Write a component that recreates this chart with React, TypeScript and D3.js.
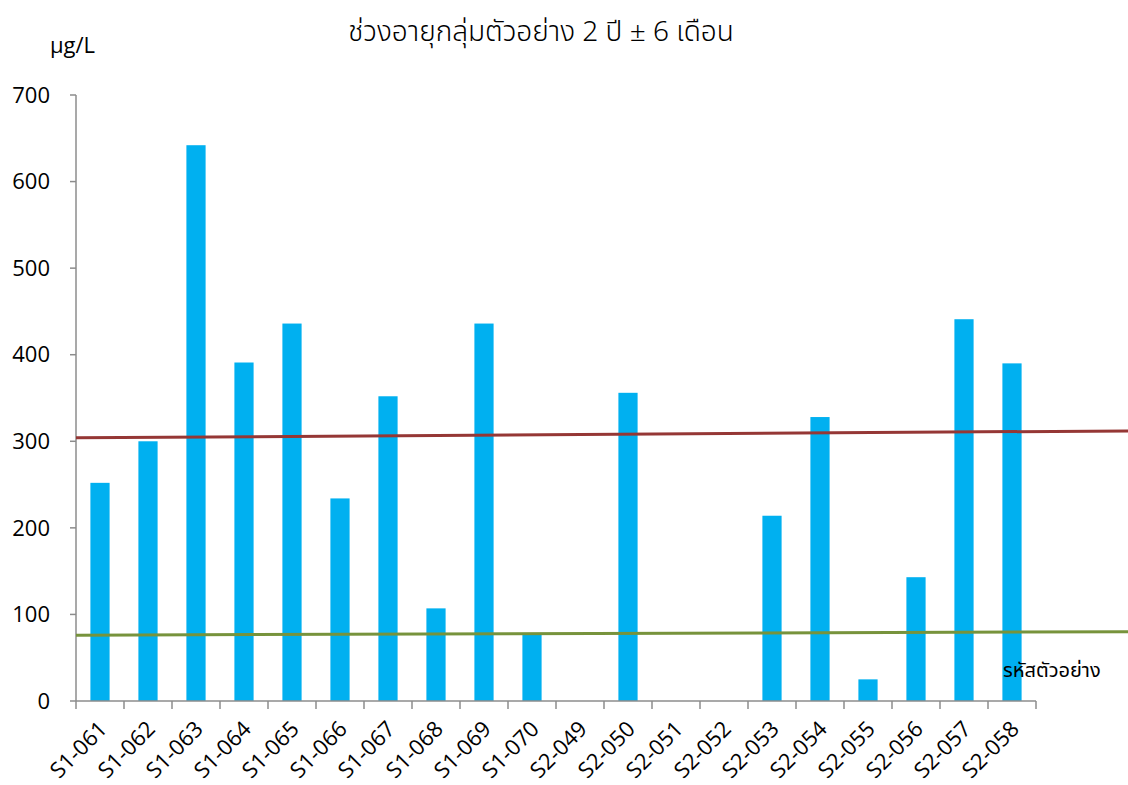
import React from 'react'
import * as d3 from 'd3'

const samples = [
  'S1-061', 'S1-062', 'S1-063', 'S1-064', 'S1-065', 'S1-066', 'S1-067', 'S1-068', 'S1-069', 'S1-070',
  'S2-049', 'S2-050', 'S2-051', 'S2-052', 'S2-053', 'S2-054', 'S2-055', 'S2-056', 'S2-057', 'S2-058',
]
const levels = [252, 300, 642, 391, 436, 234, 352, 107, 436, 77, 0, 356, 0, 0, 214, 328, 25, 143, 441, 390]
const yTicks = [0, 100, 200, 300, 400, 500, 600, 700]

// reference lines: value at the left edge and at the right edge of the picture
const upperLine = [304, 312]
const lowerLine = [76, 80]

const title = 'ช่วงอายุกลุ่มตัวอย่าง 2 ปี ± 6 เดือน'
const yUnit = 'μg/L'
const xTitle = 'รหัสตัวอย่าง'

const width = 1128
const height = 785
const margin = { top: 95, right: 92, bottom: 84, left: 76 }
const labelFont = '"Open Sans", "Liberation Sans", sans-serif'
const thaiFont = '"Noto Sans Thai", "Noto Sans", "DejaVu Sans", sans-serif'

export default function App() {
  const boundedWidth = width - margin.left - margin.right
  const boundedHeight = height - margin.top - margin.bottom

  const xScale = d3.scaleBand<string>()
    .domain(samples)
    .range([0, boundedWidth])
    .paddingInner(0.6)
    .paddingOuter(0.3)

  const yScale = d3.scaleLinear()
    .domain([0, 700])
    .range([boundedHeight, 0])

  const step = xScale.step()
  const bw = xScale.bandwidth()
  const boundaries = d3.range(samples.length + 1).map(i => i * step)

  const lineX = d3.scaleLinear().domain([0, 1]).range([0, width - margin.left])
  const trend = d3.line<number>()
    .x((_, i) => lineX(i))
    .y(d => yScale(d))

  const axisColor = '#8c8c8c'

  return (
    <svg width={width} height={height} style={{ position: 'absolute', left: 0, top: 0, background: '#fff' }}>
      <text x={541} y={41} textAnchor="middle" fontFamily={thaiFont} fontSize={28} fontWeight={300} fill="#000">{title}</text>
      <text x={50} y={53} fontFamily={labelFont} fontSize={22} fill="#000">{yUnit}</text>
      <g transform={`translate(${margin.left},${margin.top})`}>
        {samples.map((s, i) => (
          <rect key={s}
            x={xScale(s)}
            y={yScale(levels[i])}
            width={bw}
            height={boundedHeight - yScale(levels[i])}
            fill="#00b0f0" />
        ))}
        <line x1={0} x2={0} y1={0} y2={boundedHeight} stroke={axisColor} strokeWidth={1.5} />
        {yTicks.map(t => (
          <g key={t} transform={`translate(0,${yScale(t)})`}>
            <line x1={-6} x2={0} stroke={axisColor} strokeWidth={1.5} />
            <text x={-26} dy="0.35em" textAnchor="end" fontFamily={labelFont} fontSize={22} fill="#000">{t}</text>
          </g>
        ))}
        <line x1={0} x2={boundedWidth} y1={boundedHeight} y2={boundedHeight} stroke={axisColor} strokeWidth={1.5} />
        {boundaries.map((b, i) => (
          <line key={i} x1={b} x2={b} y1={boundedHeight} y2={boundedHeight + 8} stroke={axisColor} strokeWidth={1.5} />
        ))}
        {samples.map(s => {
          const cx = (xScale(s) ?? 0) + bw / 2 + 3
          return (
            <text key={s}
              transform={`translate(${cx},${boundedHeight + 24}) rotate(-45)`}
              textAnchor="end" dy="0.35em"
              fontFamily={labelFont} fontSize={22} fill="#000">{s}</text>
          )
        })}
        <path d={trend(upperLine) ?? ''} fill="none" stroke="#953735" strokeWidth={3} />
        <path d={trend(lowerLine) ?? ''} fill="none" stroke="#77933c" strokeWidth={3} />
        <text x={boundedWidth - 33} y={boundedHeight - 24} fontFamily={thaiFont} fontSize={20} fill="#000">{xTitle}</text>
      </g>
    </svg>
  )
}
